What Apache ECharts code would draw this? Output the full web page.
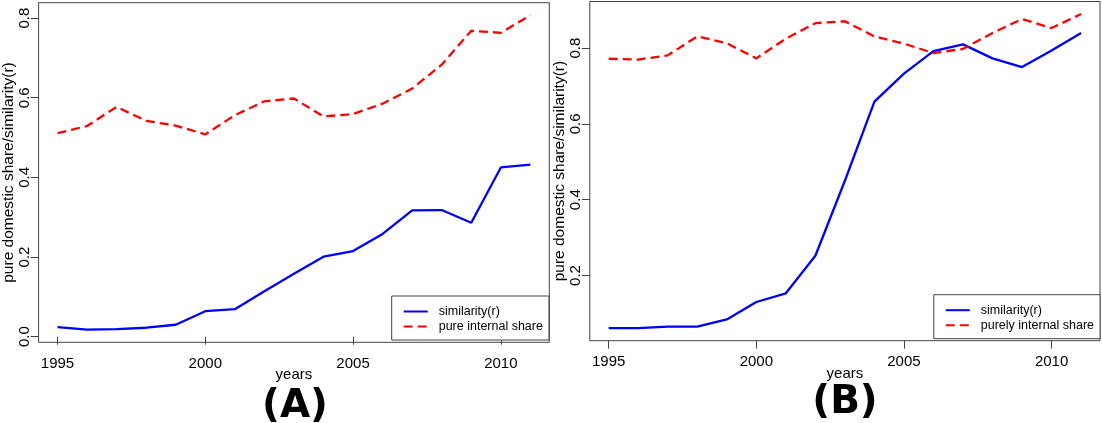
<!DOCTYPE html>
<html>
<head>
<meta charset="utf-8">
<script src="https://cdn.jsdelivr.net/npm/echarts@6/dist/echarts.min.js"></script>
<style>html,body{margin:0;padding:0;background:#fff;}#c{width:1102px;height:423px;}</style>
</head>
<body>
<div id="c"></div>
<script>
const years = [1995,1996,1997,1998,1999,2000,2001,2002,2003,2004,2005,2006,2007,2008,2009,2010,2011];
const simA = [0.024,0.0175,0.019,0.0225,0.030,0.064,0.069,0.114,0.158,0.201,0.215,0.258,0.317,0.318,0.286,0.425,0.432];
const shareA = [0.511,0.529,0.577,0.542,0.530,0.508,0.556,0.591,0.598,0.553,0.559,0.585,0.623,0.683,0.768,0.763,0.807];
const simB = [0.061,0.061,0.065,0.065,0.084,0.130,0.153,0.252,0.450,0.659,0.733,0.792,0.810,0.773,0.750,0.794,0.840];
const shareB = [0.772,0.770,0.781,0.831,0.813,0.773,0.825,0.866,0.871,0.831,0.812,0.787,0.798,0.840,0.877,0.853,0.890];
const xTicks = [1995,2000,2005,2010];
const yTicksA = [0.0,0.2,0.4,0.6,0.8];
const yTicksB = [0.2,0.4,0.6,0.8];
const legendA = ['similarity(r)','pure internal share'];
const legendB = ['similarity(r)','purely internal share'];

const FONT = '"Liberation Sans", Arial, sans-serif';
function pad(arr){const mn=Math.min(...arr),mx=Math.max(...arr),r=mx-mn;return [mn-0.04*r,mx+0.04*r];}
const xr = pad(years);
const yrA = pad(simA.concat(shareA));
const yrB = pad(simB.concat(shareB));
const pairs = (ys)=>years.map((y,i)=>[y,ys[i]]);

function xAxis(gi){return {type:'value',gridIndex:gi,min:xr[0],max:xr[1],
  name:'years',nameLocation:'middle',nameGap:25.5,nameMoveOverlap:false,nameTextStyle:{fontFamily:FONT,fontSize:15,color:'#000'},
  axisLine:{show:false},splitLine:{show:false},
  axisTick:{show:true,length:8,customValues:xTicks,lineStyle:{color:'#444',width:1}},
  axisLabel:{customValues:xTicks,margin:14,fontFamily:FONT,fontSize:15,color:'#000',formatter:v=>String(Math.round(v))}};}
function yAxis(gi,yr,ticks){return {type:'value',gridIndex:gi,min:yr[0],max:yr[1],
  name:'pure domestic share/similarity(r)',nameLocation:'middle',nameRotate:90,nameGap:22,nameMoveOverlap:false,
  nameTextStyle:{fontFamily:FONT,fontSize:15.5,color:'#000'},
  axisLine:{show:false},splitLine:{show:false},
  axisTick:{show:true,length:8,customValues:ticks,lineStyle:{color:'#444',width:1}},
  axisLabel:{customValues:ticks,rotate:90,margin:6.5,fontFamily:FONT,fontSize:15,color:'#000',formatter:v=>v.toFixed(1)}};}

const blue = {color:'#0000ff',width:2.3,type:'solid'};
const red = {color:'#ff0000',width:2.3,type:[9,5]};
function ser(name,gi,ys,ls){return {name:name,type:'line',xAxisIndex:gi,yAxisIndex:gi,data:pairs(ys),
  symbol:'none',showSymbol:false,lineStyle:ls,itemStyle:{color:ls.color},animation:false,z:3};}
function legend(left,top,data){return {orient:'vertical',left:left,top:top,data:data,
  backgroundColor:'#fff',borderColor:'#444',borderWidth:1,borderRadius:0,
  padding:[9,6,7,11],itemGap:2,itemWidth:24,itemHeight:14,itemStyle:{opacity:0},
  textStyle:{fontFamily:FONT,fontSize:12.5,color:'#000',padding:[0,0,0,6]},selectedMode:false,z:10};}

const chart = echarts.init(document.getElementById('c'),null,{renderer:'canvas'});
chart.setOption({
  backgroundColor:'#fff',
  animation:false,
  grid:[
    {left:38.6,top:2.7,width:510.7,height:339.6,show:true,borderColor:'#444',borderWidth:1,backgroundColor:'transparent',outerBoundsMode:'none',containLabel:false},
    {left:589.8,top:1.5,width:510.2,height:339.2,show:true,borderColor:'#444',borderWidth:1,backgroundColor:'transparent',outerBoundsMode:'none',containLabel:false}
  ],
  xAxis:[xAxis(0),xAxis(1)],
  yAxis:[yAxis(0,yrA,yTicksA),yAxis(1,yrB,yTicksB)],
  legend:[legend(391.7,296,legendA),legend(933.8,294.7,legendB)],
  series:[ser(legendA[0],0,simA,blue),ser(legendA[1],0,shareA,red),ser(legendB[0],1,simB,blue),ser(legendB[1],1,shareB,red)],
  graphic:[
    {type:'text',x:295,y:407,style:{text:'(A)',font:'bold 39px "DejaVu Sans"',fill:'#000',textAlign:'center',textVerticalAlign:'middle'}},
    {type:'text',x:845,y:403,style:{text:'(B)',font:'bold 39px "DejaVu Sans"',fill:'#000',textAlign:'center',textVerticalAlign:'middle'}}
  ]
});
</script>
</body>
</html>
